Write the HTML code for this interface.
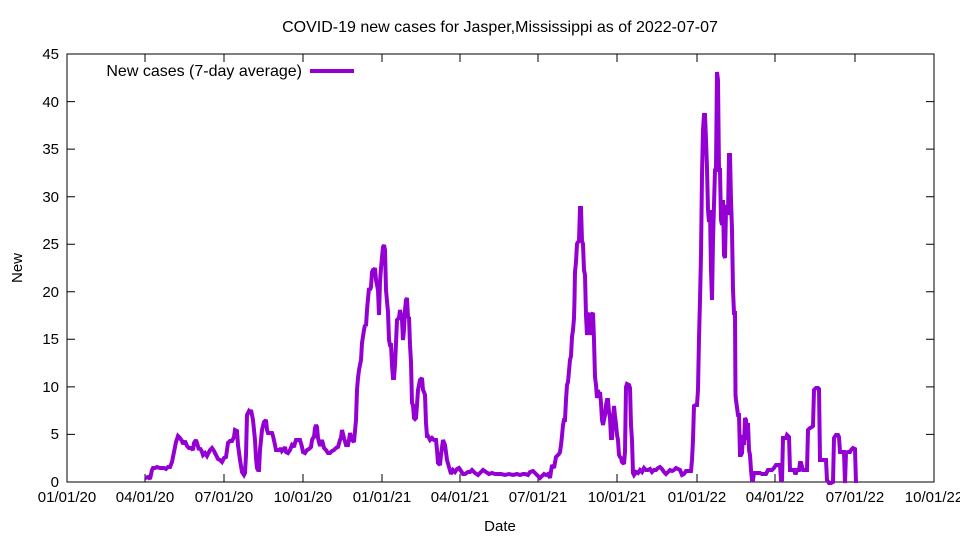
<!DOCTYPE html>
<html><head><meta charset="utf-8"><style>body{margin:0;background:#fff}svg{display:block}text{font-family:"Liberation Sans",sans-serif;font-size:15px;fill:#000}</style></head><body>
<svg width="960" height="540" xmlns="http://www.w3.org/2000/svg">
<rect x="67" y="54" width="867" height="428" fill="none" stroke="#000" stroke-width="1"/>
<g stroke="#000" stroke-width="1">
<path d="M67 482h8M67 434.4h8M67 386.9h8M67 339.3h8M67 291.8h8M67 244.2h8M67 196.7h8M67 149.1h8M67 101.6h8M67 54h8
M934 482h-8M934 434.4h-8M934 386.9h-8M934 339.3h-8M934 291.8h-8M934 244.2h-8M934 196.7h-8M934 149.1h-8M934 101.6h-8"/>
<path d="M67 482v-8M145 482v-8M224 482v-8M303 482v-8M382 482v-8M460 482v-8M538 482v-8M617 482v-8M697 482v-8M775 482v-8M855 482v-8M934 482v-8
M145 54v8M224 54v8M303 54v8M382 54v8M460 54v8M538 54v8M617 54v8M697 54v8M775 54v8M855 54v8"/>
</g>
<g text-anchor="end">
<text x="59" y="487">0</text><text x="59" y="439">5</text><text x="59" y="392">10</text><text x="59" y="344">15</text><text x="59" y="297">20</text><text x="59" y="249">25</text><text x="59" y="202">30</text><text x="59" y="154">35</text><text x="59" y="107">40</text><text x="59" y="59">45</text>
</g>
<g text-anchor="middle">
<text x="67" y="502">01/01/20</text><text x="145" y="502">04/01/20</text><text x="224" y="502">07/01/20</text><text x="303" y="502">10/01/20</text><text x="382" y="502">01/01/21</text><text x="460" y="502">04/01/21</text><text x="538" y="502">07/01/21</text><text x="617" y="502">10/01/21</text><text x="697" y="502">01/01/22</text><text x="775" y="502">04/01/22</text><text x="855" y="502">07/01/22</text><text x="934" y="502">10/01/22</text>
<text x="500" y="531">Date</text>
<text x="500" y="32" style="font-size:16px">COVID-19 new cases for Jasper,Mississippi as of 2022-07-07</text>
</g>
<text x="22" y="268" text-anchor="middle" transform="rotate(-90 22 268)">New</text>
<text x="302" y="76" text-anchor="end" style="font-size:16px">New cases (7-day average)</text>
<line x1="310" y1="71" x2="354" y2="71" stroke="#9400d3" stroke-width="4"/>
<polyline fill="none" stroke="#9400d3" stroke-width="4" stroke-linejoin="miter" stroke-miterlimit="2" points="145,478 148,477 150,479 152,470 153,468 155,468 157,467 160,468 162,468 164,468 166,469 168,467 170,467 172,462 174,452 176,442 178,436 180,438 182,441 183,444 185,441 187,446 189,448 191,448 193,450 194,443 196,440 197,443 199,450 200,448 202,452 203,455 205,453 207,456 209,452 210,450 212,448 214,451 216,455 218,459 220,460 222,462 224,458 226,457 228,443 230,441 232,441 234,437 235,430 237,431 238,445 240,460 242,472 244,475 245,473 246,455 247,415 249,411 250,412 251,410 252,415 253,420 254,430 255,440 256,458 257,468 258,470 259,470 260,450 262,430 264,422 266,420 267,430 268,433 270,433 272,433 273,436 275,445 276,450 278,450 280,450 281,448 282,451 284,449 285,447 286,452 288,453 290,450 292,445 294,447 295,443 296,440 298,440 300,440 302,447 303,452 305,453 307,450 309,449 311,447 312,440 313,438 314,437 315,428 316,425 317,427 318,438 320,446 322,440 324,448 326,450 328,453 330,453 332,451 334,450 336,448 338,447 340,440 341,438 342,430 344,438 346,445 348,445 349,440 350,433 352,440 354,442 356,420 357,390 358,378 359,370 361,360 362,343 364,330 365,325 366,326 367,310 369,288 370,290 371,287 372,272 373,270 374,270 375,268 376,280 378,290 379,315 380,282 381,268 383,247 384,245 385,250 386,290 388,312 389,340 390,345 391,345 392,365 393,378 394,378 395,365 396,343 397,320 399,318 400,310 402,320 403,340 404,330 405,310 406,300 407,298 408,318 409,317 410,345 411,362 412,403 413,405 414,418 415,419 416,418 417,405 418,390 420,380 422,378 423,390 424,392 425,395 426,423 427,436 428,436 430,440 432,438 434,440 436,440 437,450 438,463 440,465 441,455 443,440 445,445 447,460 449,467 451,474 453,470 455,472 457,469 459,468 461,471 463,474 465,474 468,472 470,472 472,470 475,473 478,475 480,473 483,470 486,472 489,474 492,473 495,474 498,474 501,474 505,475 509,474 513,475 517,474 520,475 523,474 525,474 528,475 530,472 533,471 536,474 538,476 540,478 542,476 544,474 546,475 548,474 550,478 552,465 554,468 556,457 558,455 559,454 560,452 561,445 562,436 563,425 564,420 565,420 566,400 567,385 568,382 570,360 571,356 572,337 573,330 574,318 574.5,300 575,272 576,262 577,244 578,242 579,241 580,208 581,208 582,241 583,244 584,270 585,275 586,315 587,335 588,320 589,315 590,313 591,335 592,314 593,313 594,340 595,377 596,385 597,398 598,390 599,395 600,392 601,403 602,420 603,425 605,415 606,405 607,400 608,400 609,412 610,418 611,438 612,438 613,420 614,406 615,416 616,424 617,435 618,440 619,455 620,457 621,458 622,462 624,464 625,452 626,387 627,384 629,385 630,388 631,425 632,440 633,473 634,475 636,472 638,473 640,470 642,472 644,468 646,470 648,470 650,469 652,472 654,470 656,470 658,468 660,467 662,469 664,472 666,474 668,472 670,470 672,471 674,470 676,468 678,469 680,470 682,475 684,474 686,471 688,471 691,471 692,460 693,440 694,406 696,405 697,405 698,390 699,338 700,300 701,255 702,175 703,130 704,115 705,115 706,140 707,168 708,210 709,222 710,210 711,270 712,300 713,240 714,205 715,170 716,168 717,72 718,80 719,170 720,170 721,220 722,225 723,200 724,255 725,258 726,210 727,205 728,215 729,155 730,155 731,200 732,230 733,290 734,313 735,313 735.5,395 736,400 738,415 739,415 740,455 741,455 742,453 743,435 744,445 745,418 746,420 747,440 748,423 749,450 750,455 751,470 752,480 753,480 754,473 756,473 758,473 760,473 762,474 764,474 766,474 768,470 770,470 772,470 774,468 776,465 778,465 780,465 781,480 782,481 783,438 786,438 787,435 789,437 790,470 792,470 794,470 795,473 796,473 797,470 799,470 800,463 801,463 803,470 805,470 807,470 808,430 810,428 812,427 813,426 814,390 816,388 818,388 819,389 820,460 822,460 824,460 826,460 827,480 829,483 831,483 833,482 834,438 836,435 838,435 839,437 840,452 842,452 844,452 845,483 846,453 848,452 850,452 851,450 853,448 855,449 856,483"/>
</svg>
</body></html>
